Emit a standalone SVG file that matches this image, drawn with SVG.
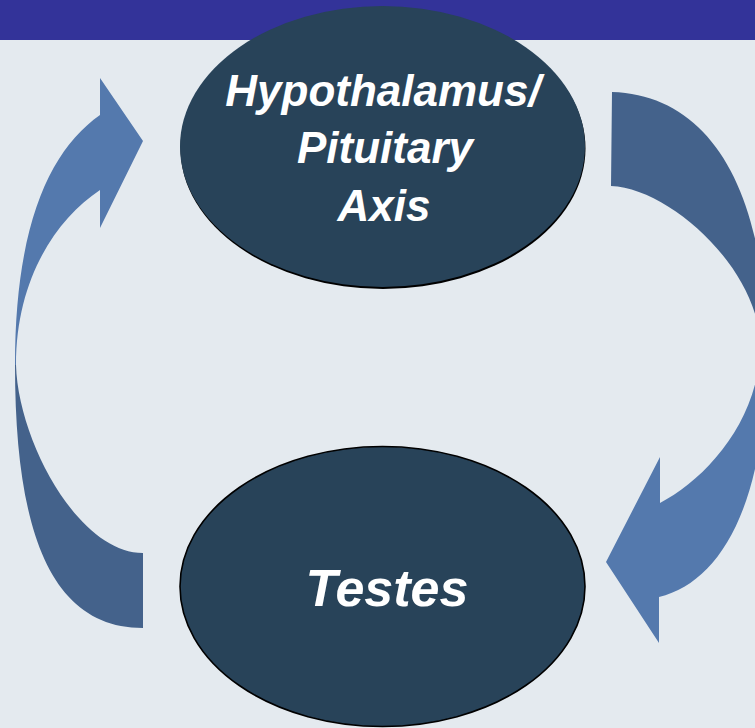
<svg xmlns="http://www.w3.org/2000/svg" width="755" height="728" viewBox="0 0 755 728">
<style>
.light{fill:#5479AD}
.dark{fill:#44628B}
.node{fill:#284359}
.label{fill:#FFFFFF;font-family:"Liberation Sans",Arial,sans-serif;font-weight:bold;font-style:italic;text-anchor:middle}
</style>
<rect x="0" y="0" width="755" height="728" fill="#E4EAEF"/>
<rect x="0" y="0" width="755" height="40" fill="#333399"/>
<g id="connectors">
  <g id="arrow-left">
    <path class="dark" d="M15,365 C15,530 50,628 143,628 L143,553 C78,553 18,440 16,365 Z"/>
    <path class="light" d="M100,78 L143,141 L100,228 L100,190 C55,220 16,280 16,365 L15,365 C15,225 50,150 100,115 Z"/>
  </g>
  <g id="arrow-right">
    <path class="dark" d="M612,92 C710,95 766,190 766,348 L760,346 C760,270 670,188 611,186 Z"/>
    <path class="light" d="M766,348 C768,500 722,582 659,597 L659,643 L606,562 L660,457 L660,503 C705,480 760,420 760,346 Z"/>
  </g>
</g>
<g id="node-hpa">
  <ellipse cx="383" cy="148.5" rx="202.5" ry="140.5" fill="#000000"/>
  <ellipse class="node" cx="382.5" cy="146.5" rx="202.5" ry="140.5"/>
  <text class="label" font-size="44" x="383" y="106">Hypothalamus/</text>
  <text class="label" font-size="44" x="385" y="163">Pituitary</text>
  <text class="label" font-size="44" x="384" y="221">Axis</text>
</g>
<g id="node-testes">
  <ellipse class="node" cx="382.5" cy="586.5" rx="202.5" ry="140" stroke="#000000" stroke-width="1.6"/>
  <text class="label" font-size="52" x="387" y="606">Testes</text>
</g>
</svg>
